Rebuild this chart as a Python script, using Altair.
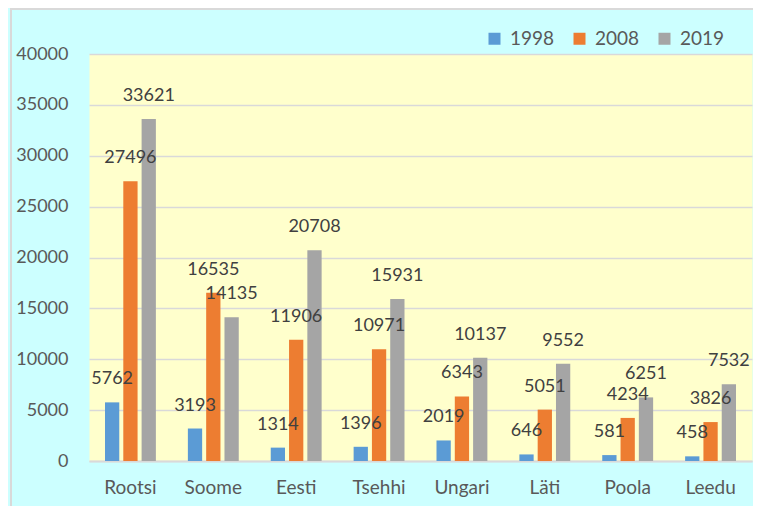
import altair as alt
import pandas as pd

countries = ["Rootsi", "Soome", "Eesti", "Tsehhi", "Ungari", "Läti", "Poola", "Leedu"]
years = ["1998", "2008", "2019"]
v1998 = [5762, 3193, 1314, 1396, 2019, 646, 581, 458]
v2008 = [27496, 16535, 11906, 10971, 6343, 5051, 4234, 3826]
v2019 = [33621, 14135, 20708, 15931, 10137, 9552, 6251, 7532]
colors = ["#5B9BD5", "#ED7D31", "#A5A5A5"]
y_ticks = [0, 5000, 10000, 15000, 20000, 25000, 30000, 35000, 40000]

rows = []
for yr, vals in zip(years, [v1998, v2008, v2019]):
    for c, v in zip(countries, vals):
        rows.append({"country": c, "year": yr, "value": v})
df = pd.DataFrame(rows)

W, H = 663, 407
FONT = "Lato"

x_enc = alt.X("country:N", sort=countries,
              scale=alt.Scale(paddingInner=0.386, paddingOuter=0.193),
              axis=alt.Axis(title=None, labelAngle=0, ticks=False, tickSize=0,
                            domain=True, domainColor="#D9D9D9", domainWidth=2,
                            labelPadding=17, labelFont=FONT, labelFontSize=19,
                            labelColor="#595959"))
xoff = alt.XOffset("year:N", sort=years, scale=alt.Scale(paddingInner=0.22, paddingOuter=0))
y_enc = alt.Y("value:Q", scale=alt.Scale(domain=[0, 40000], nice=False),
              axis=alt.Axis(title=None, values=y_ticks, format="d", grid=True,
                            gridColor="#D9D9D9", gridWidth=1.5, domain=False,
                            ticks=False, tickSize=0, labelPadding=21,
                            labelFont=FONT, labelFontSize=18, labelColor="#595959"))

frame = alt.Chart(alt.Data(values=[{"a": 1}])).mark_rect(
    fillOpacity=0, stroke="#D9D9D9", strokeWidth=2
).encode(x=alt.value(-78), x2=alt.value(W + 40), y=alt.value(-45), y2=alt.value(H + 80))

bars = alt.Chart(df).mark_bar().encode(
    x=x_enc, xOffset=xoff, y=y_enc,
    color=alt.Color("year:N", sort=years,
                    scale=alt.Scale(domain=years, range=colors),
                    legend=alt.Legend(title=None, orient="none", direction="horizontal",
                                      legendX=396, legendY=-25, symbolType="square",
                                      symbolSize=144, symbolStrokeWidth=0,
                                      labelOffset=6, columnPadding=15,
                                      labelFont=FONT, labelFontSize=19,
                                      labelColor="#595959")),
)

labels = alt.Chart(df).mark_text(
    baseline="middle", dy=-23, font=FONT, fontSize=18, color="#404040"
).encode(x=x_enc, xOffset=xoff, y=y_enc, text=alt.Text("value:Q", format="d"))

chart = alt.layer(frame, bars, labels).properties(
    width=W, height=H,
    autosize=alt.AutoSizeParams(type="none"),
    padding={"left": 81, "top": 46, "right": 1, "bottom": 45},
    background="#CCFFFF",
).configure_view(fill="#FFFFCC", stroke="transparent")

chart.save("out.html", embed_options={"renderer": "svg", "actions": False})
